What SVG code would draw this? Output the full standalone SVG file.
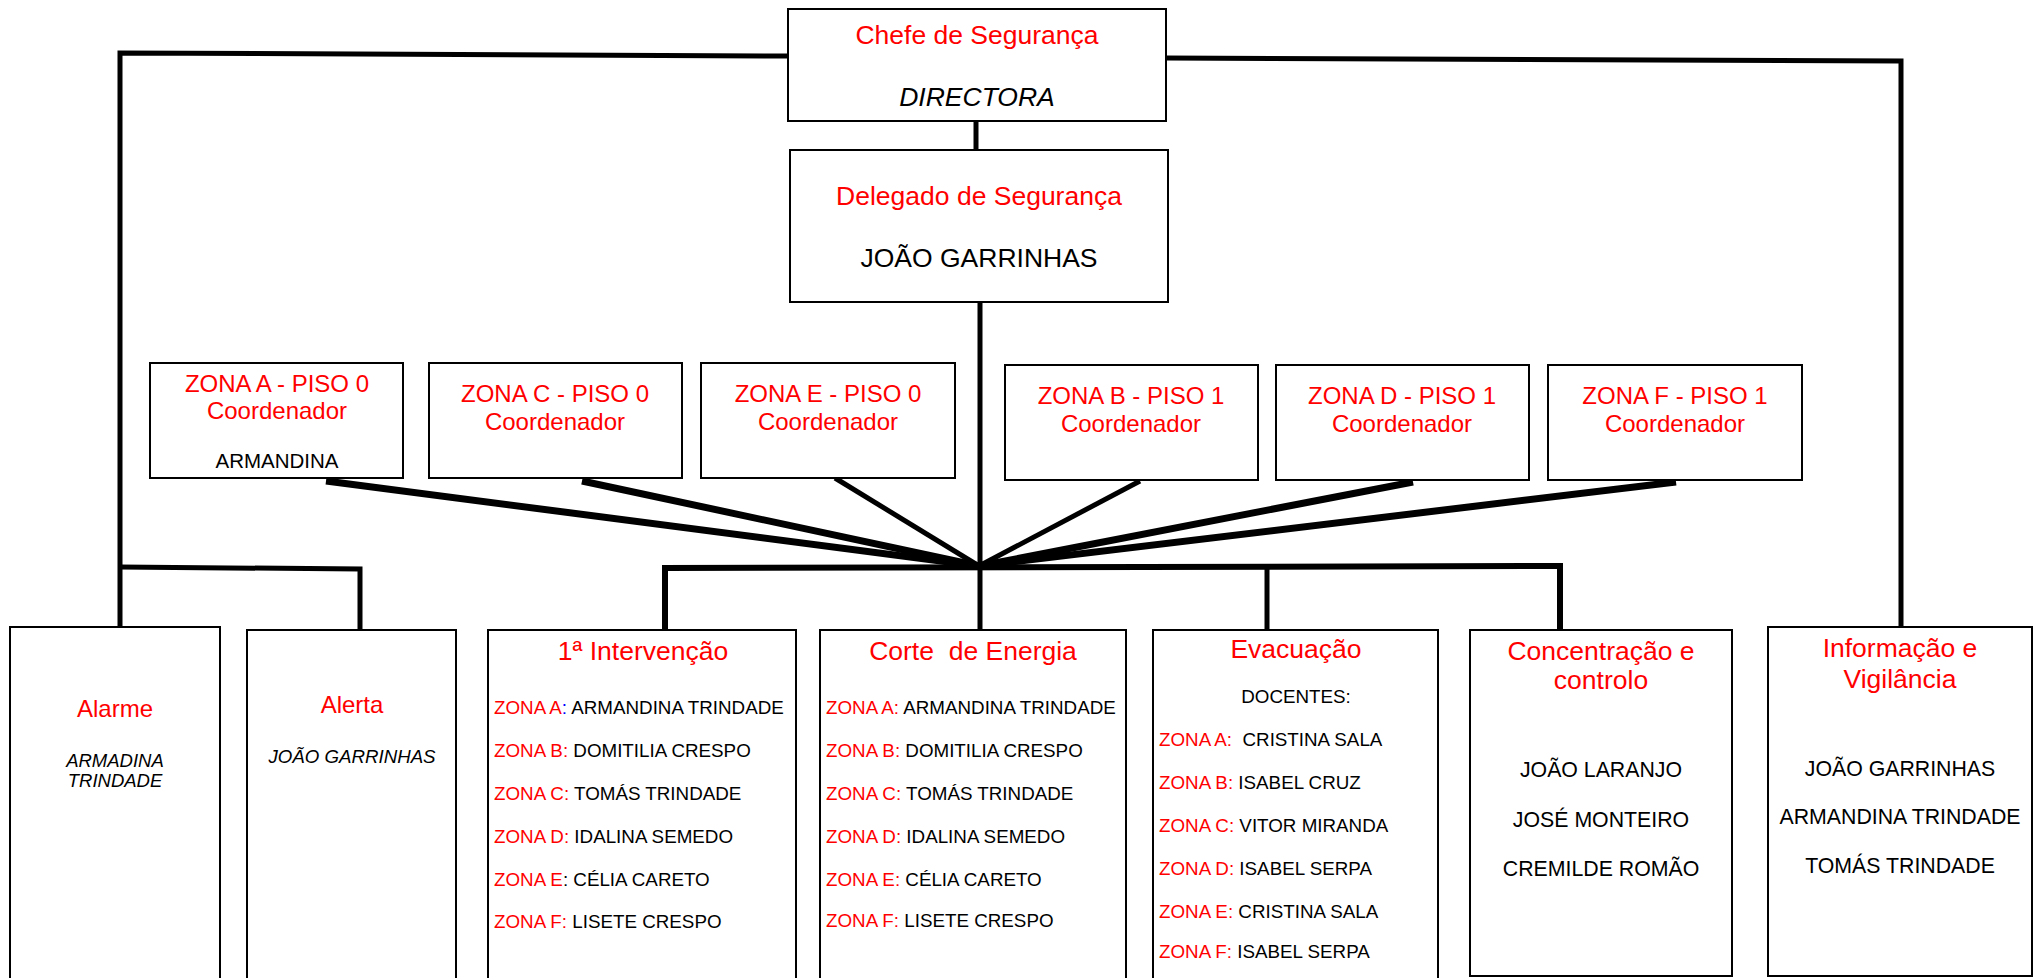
<svg xmlns="http://www.w3.org/2000/svg" width="2044" height="978" viewBox="0 0 2044 978">
<style>
.box{fill:#fff;stroke:#000;stroke-width:2}
text{font-family:"Liberation Sans",Arial,sans-serif;fill:#000}
.t{font-size:26.5px;fill:#f00;text-anchor:middle}
.n{font-size:26.5px;text-anchor:middle}
.z{font-size:24px;fill:#f00;text-anchor:middle}
.s{font-size:18.8px}
.c{text-anchor:middle}
.r{fill:#f00}
.b{fill:#00f}
.i{font-style:italic}
.m{font-size:21.3px;text-anchor:middle}
.ln{stroke:#000;fill:none;stroke-linecap:butt;stroke-linejoin:miter}
</style>
<g id="connectors" class="ln">
<polyline points="788,56 120,53 120,630" stroke-width="5"/>
<polyline points="1166,58 1901,61 1901,628" stroke-width="5"/>
<line x1="976" y1="121" x2="976" y2="150" stroke-width="5"/>
<line x1="980" y1="302" x2="980" y2="630" stroke-width="5"/>
<polyline points="120,567 360,569 360,630" stroke-width="5"/>
<line x1="326" y1="481" x2="979" y2="566" stroke-width="7"/>
<line x1="582" y1="481" x2="979" y2="566" stroke-width="7"/>
<line x1="835" y1="478" x2="979" y2="566" stroke-width="5"/>
<line x1="1140" y1="481" x2="979" y2="566" stroke-width="5"/>
<line x1="1413" y1="482" x2="979" y2="566" stroke-width="7"/>
<line x1="1676" y1="482" x2="979" y2="566" stroke-width="7"/>
<polyline points="665,630 665,568 1560,566 1560,630" stroke-width="6"/>
<line x1="1267" y1="567" x2="1267" y2="630" stroke-width="5"/>
</g>
<g id="chefe">
<rect class="box" x="788" y="9" width="378" height="112"/>
<text class="t" x="977" y="44">Chefe de Segurança</text>
<text class="n i" x="977" y="106">DIRECTORA</text>
</g>
<g id="delegado">
<rect class="box" x="790" y="150" width="378" height="152"/>
<text class="t" x="979" y="205">Delegado de Segurança</text>
<text class="n" x="979" y="267">JOÃO GARRINHAS</text>
</g>
<g id="zona-a">
<rect class="box" x="150" y="363" width="253" height="115"/>
<text class="z" x="277" y="392">ZONA A - PISO 0</text>
<text class="z" x="277" y="419">Coordenador</text>
<text class="c" x="277" y="468" font-size="20.5">ARMANDINA</text>
</g>
<g id="zona-c">
<rect class="box" x="429" y="363" width="253" height="115"/>
<text class="z" x="555" y="402">ZONA C - PISO 0</text>
<text class="z" x="555" y="430">Coordenador</text>
</g>
<g id="zona-e">
<rect class="box" x="701" y="363" width="254" height="115"/>
<text class="z" x="828" y="402">ZONA E - PISO 0</text>
<text class="z" x="828" y="430">Coordenador</text>
</g>
<g id="zona-b">
<rect class="box" x="1005" y="365" width="253" height="115"/>
<text class="z" x="1131" y="404">ZONA B - PISO 1</text>
<text class="z" x="1131" y="432">Coordenador</text>
</g>
<g id="zona-d">
<rect class="box" x="1276" y="365" width="253" height="115"/>
<text class="z" x="1402" y="404">ZONA D - PISO 1</text>
<text class="z" x="1402" y="432">Coordenador</text>
</g>
<g id="zona-f">
<rect class="box" x="1548" y="365" width="254" height="115"/>
<text class="z" x="1675" y="404">ZONA F - PISO 1</text>
<text class="z" x="1675" y="432">Coordenador</text>
</g>
<g id="alarme">
<rect class="box" x="10" y="627" width="210" height="360"/>
<text class="z" x="115" y="717">Alarme</text>
<text class="c i" x="115" y="767" font-size="18.5">ARMADINA</text>
<text class="c i" x="115" y="787" font-size="18.5">TRINDADE</text>
</g>
<g id="alerta">
<rect class="box" x="247" y="630" width="209" height="360"/>
<text class="z" x="352" y="713">Alerta</text>
<text class="c i" x="352" y="763" font-size="18.7">JOÃO GARRINHAS</text>
</g>
<g id="intervencao">
<rect class="box" x="488" y="630" width="308" height="360"/>
<text class="t" x="643" y="660">1ª Intervenção</text>
<text class="s" x="494" y="714"><tspan class="r">ZONA A</tspan><tspan class="b">:</tspan> ARMANDINA TRINDADE</text>
<text class="s" x="494" y="757"><tspan class="r">ZONA B:</tspan> DOMITILIA CRESPO</text>
<text class="s" x="494" y="800"><tspan class="r">ZONA C:</tspan> TOMÁS TRINDADE</text>
<text class="s" x="494" y="843"><tspan class="r">ZONA D:</tspan> IDALINA SEMEDO</text>
<text class="s" x="494" y="886"><tspan class="r">ZONA E</tspan>: CÉLIA CARETO</text>
<text class="s" x="494" y="928"><tspan class="r">ZONA F:</tspan> LISETE CRESPO</text>
</g>
<g id="corte">
<rect class="box" x="820" y="630" width="306" height="360"/>
<text class="t" x="973" y="660" xml:space="preserve">Corte  de Energia</text>
<text class="s" x="826" y="714"><tspan class="r">ZONA A:</tspan> ARMANDINA TRINDADE</text>
<text class="s" x="826" y="757"><tspan class="r">ZONA B:</tspan> DOMITILIA CRESPO</text>
<text class="s" x="826" y="800"><tspan class="r">ZONA C:</tspan> TOMÁS TRINDADE</text>
<text class="s" x="826" y="843"><tspan class="r">ZONA D:</tspan> IDALINA SEMEDO</text>
<text class="s" x="826" y="886"><tspan class="r">ZONA E:</tspan> CÉLIA CARETO</text>
<text class="s" x="826" y="927"><tspan class="r">ZONA F:</tspan> LISETE CRESPO</text>
</g>
<g id="evacuacao">
<rect class="box" x="1153" y="630" width="285" height="360"/>
<text class="t" x="1296" y="658">Evacuação</text>
<text class="s c" x="1296" y="703">DOCENTES:</text>
<text class="s" x="1159" y="746" xml:space="preserve"><tspan class="r">ZONA A:</tspan>  CRISTINA SALA</text>
<text class="s" x="1159" y="789"><tspan class="r">ZONA B:</tspan> ISABEL CRUZ</text>
<text class="s" x="1159" y="832"><tspan class="r">ZONA C:</tspan> VITOR MIRANDA</text>
<text class="s" x="1159" y="875"><tspan class="r">ZONA D:</tspan> ISABEL SERPA</text>
<text class="s" x="1159" y="918"><tspan class="r">ZONA E:</tspan> CRISTINA SALA</text>
<text class="s" x="1159" y="958"><tspan class="r">ZONA F:</tspan> ISABEL SERPA</text>
</g>
<g id="concentracao">
<rect class="box" x="1470" y="630" width="262" height="346"/>
<text class="t" x="1601" y="660">Concentração e</text>
<text class="t" x="1601" y="689">controlo</text>
<text class="m" x="1601" y="777">JOÃO LARANJO</text>
<text class="m" x="1601" y="827">JOSÉ MONTEIRO</text>
<text class="m" x="1601" y="876">CREMILDE ROMÃO</text>
</g>
<g id="informacao">
<rect class="box" x="1768" y="627" width="264" height="349"/>
<text class="t" x="1900" y="657">Informação e</text>
<text class="t" x="1900" y="688">Vigilância</text>
<text class="m" x="1900" y="776">JOÃO GARRINHAS</text>
<text class="m" x="1900" y="824">ARMANDINA TRINDADE</text>
<text class="m" x="1900" y="873">TOMÁS TRINDADE</text>
</g>
</svg>
